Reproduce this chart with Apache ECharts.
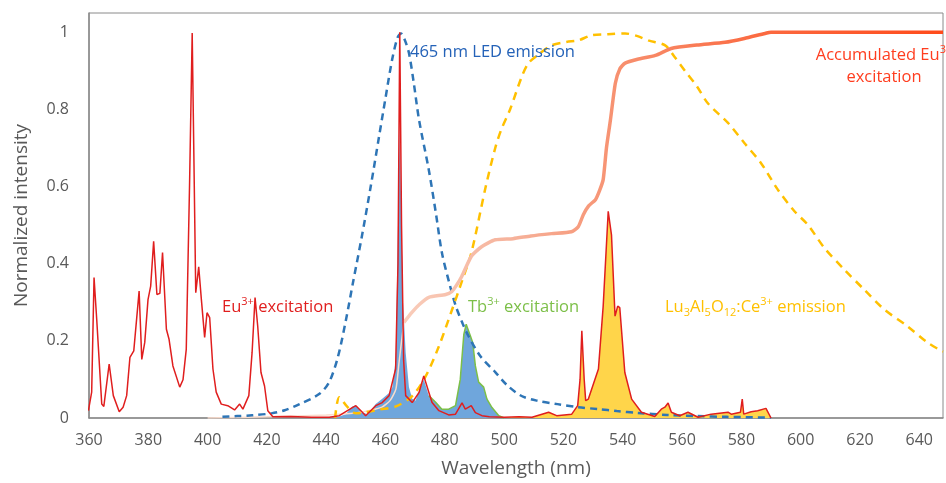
<!DOCTYPE html>
<html>
<head>
<meta charset="utf-8">
<title>Excitation and emission spectra</title>
<script src="https://cdn.jsdelivr.net/npm/echarts@6/dist/echarts.min.js"></script>
<style>
  html, body { margin: 0; padding: 0; background: #fff; }
  #chart { width: 946px; height: 483px; }
</style>
</head>
<body>
<div id="chart"></div>
<script>
// wavelength (nm), normalized intensity
const euExcitation = [
  [359.8, 0.019], [360.9, 0.067], [361.7, 0.364], [362.6, 0.256], [364.3, 0.036], [365, 0.03],
  [366.8, 0.14], [368.2, 0.058], [370.2, 0.016], [371.5, 0.028], [372.7, 0.058], [373.8, 0.157],
  [375.1, 0.174], [376.9, 0.329], [377.8, 0.152], [378.8, 0.196], [379.9, 0.307], [380.8, 0.342],
  [381.8, 0.458], [382.9, 0.32], [383.9, 0.323], [384.8, 0.429], [386.1, 0.23], [387, 0.204],
  [388.3, 0.135], [390.6, 0.08], [391.7, 0.099], [392.8, 0.178], [393.9, 0.6], [394.8, 0.998],
  [396, 0.325], [397, 0.392], [397.9, 0.307], [399, 0.209], [399.8, 0.273], [400.7, 0.26],
  [401.8, 0.127], [402.9, 0.067], [404.6, 0.036], [406.8, 0.032], [409.1, 0.021], [410.8, 0.036],
  [411.9, 0.023], [413.9, 0.058], [415, 0.17], [416, 0.312], [416.9, 0.238], [418, 0.118],
  [419.2, 0.083], [420.3, 0.019], [422, 0.003], [428, 0.004], [435, 0.002], [441, 0.002],
  [444.4, 0.006], [448.8, 0.027], [450, 0.032], [451.7, 0.019], [453.3, 0.006], [456.7, 0.032],
  [458.9, 0.04], [461.2, 0.058], [463.4, 0.127], [464.2, 0.4], [464.8, 1.0], [465.4, 0.5],
  [466.1, 0.15], [466.8, 0.058], [469, 0.04], [471.3, 0.066], [472.9, 0.109], [474.6, 0.067],
  [475.7, 0.04], [478, 0.019], [481.3, 0.008], [483.6, 0.01], [485.8, 0.039], [486.9, 0.023],
  [488.9, 0.032], [490.3, 0.014], [492.5, 0.006], [495, 0.003], [500, 0.002], [505, 0.003],
  [509.4, 0.002], [515, 0.015], [517.7, 0.006], [522.8, 0.01], [524.8, 0.032], [525.6, 0.1],
  [526.2, 0.226], [527, 0.1], [527.5, 0.045], [528.4, 0.049], [531.8, 0.127], [533.4, 0.29],
  [535.1, 0.536], [536.2, 0.475], [537.4, 0.264], [538.3, 0.29], [539, 0.286], [540.7, 0.118],
  [543, 0.049], [546.3, 0.015], [550.8, 0.004], [553, 0.023], [554.2, 0.028], [555.3, 0.039],
  [556.4, 0.015], [559.2, 0.006], [562, 0.015], [565.4, 0.002], [569.8, 0.01], [575.5, 0.015],
  [576.6, 0.01], [579.7, 0.015], [580.3, 0.049], [580.8, 0.01], [583.3, 0.016], [585.5, 0.019],
  [588.3, 0.025], [590, 0]
]

const tbExcitation = [
  [443, 0], [446.6, 0.01], [448.8, 0.03], [450, 0.033], [452, 0.015], [454, 0.01], [456.7, 0.036],
  [458.9, 0.05], [461.2, 0.065], [462.3, 0.08], [463.4, 0.15], [464.2, 0.5], [464.8, 0.76],
  [465.4, 0.5], [465.9, 0.3], [466.8, 0.17], [467.9, 0.08], [469, 0.05], [470.1, 0.045],
  [471.3, 0.07], [472.9, 0.1], [474.6, 0.058], [476.9, 0.041], [479, 0.023], [481.3, 0.023],
  [483.6, 0.032], [485.2, 0.1], [486.4, 0.217], [487.2, 0.243], [488.6, 0.213], [489.4, 0.196],
  [490.3, 0.135], [491.4, 0.093], [493.1, 0.08], [494.2, 0.049], [495.9, 0.027], [498.2, 0.006],
  [500, 0]
]

const ledEmission = [
  [405, 0.003], [410, 0.005], [415, 0.007], [421.5, 0.012], [426, 0.02], [431, 0.036],
  [437.6, 0.062], [441, 0.093], [444, 0.16], [446.7, 0.256], [449, 0.35], [452, 0.47],
  [455, 0.6], [457.8, 0.729], [460, 0.83], [462.2, 0.928], [464, 0.985], [465.2, 0.997],
  [466.5, 0.98], [467.9, 0.946], [469.5, 0.87], [471.3, 0.773], [474.6, 0.643], [477, 0.53],
  [479, 0.429], [481.5, 0.35], [483.7, 0.29], [486, 0.245], [488, 0.212], [492, 0.16],
  [497, 0.119], [501, 0.085], [505.9, 0.057], [511, 0.045], [518, 0.036], [525, 0.028],
  [531.8, 0.023], [538, 0.018], [545, 0.013], [555, 0.008], [565, 0.005], [575, 0.003],
  [590, 0.001]
]

const luagEmission = [
  [443, 0], [444.4, 0.054], [447, 0.03], [450, 0.012], [453.4, 0.015], [458, 0.022],
  [463.5, 0.03], [469, 0.057], [473.6, 0.109], [478, 0.186], [482.4, 0.28], [486, 0.36],
  [489, 0.43], [493.8, 0.6], [497, 0.7], [499, 0.747], [502, 0.8], [505.9, 0.884],
  [508.2, 0.92], [512, 0.945], [516, 0.966], [521, 0.975], [525, 0.979], [529.4, 0.992],
  [535, 0.995], [540.8, 0.997], [545, 0.99], [548.6, 0.979], [554.3, 0.966], [557.5, 0.936],
  [561, 0.9], [565, 0.86], [568.7, 0.816], [575.5, 0.765], [581, 0.713], [586.7, 0.66],
  [592.3, 0.592], [597.9, 0.536], [602.4, 0.501], [608, 0.441], [614.7, 0.385], [621.4, 0.333],
  [628.1, 0.282], [636, 0.238], [642.7, 0.196], [648, 0.172]
]

// accumulated Eu3+ excitation: faint start, then the main curve
const accumulatedStart = [
  [400, 0], [420, 0.003], [440, 0.008], [450, 0.013], [455, 0.02], [458.8, 0.028],
  [461.5, 0.045], [463.5, 0.075], [464.5, 0.14], [465.2, 0.186], [466.2, 0.248]
]
const accumulatedMain = [
  [466.2, 0.248], [468.9, 0.274], [471.5, 0.295], [474.6, 0.313], [480.3, 0.32], [482.4, 0.328],
  [484, 0.345], [485.7, 0.367], [489, 0.42], [492.4, 0.444], [497, 0.462], [503, 0.465],
  [509, 0.472], [516, 0.478], [522.7, 0.483], [525, 0.496], [526.7, 0.527], [528.5, 0.55],
  [530.8, 0.566], [532.2, 0.59], [533.4, 0.618], [534.5, 0.7], [535.8, 0.77], [537.5, 0.868],
  [539, 0.905], [540.8, 0.92], [545, 0.93], [551, 0.94], [556.3, 0.958], [565, 0.967],
  [574.5, 0.974], [581, 0.984], [588, 0.997], [590, 1], [648, 1]
]

const xTicks = [360, 380, 400, 420, 440, 460, 480, 500, 520, 540, 560, 580, 600, 620, 640]
const yTicks = [0, 0.2, 0.4, 0.6, 0.8, 1]

const font = 'Open Sans'
const chart = echarts.init(document.getElementById('chart'))

function richFor(color) {
  return {
    n: { fontSize: 16.5, fontFamily: font, fill: color, lineHeight: 22, verticalAlign: 'middle' },
    s: { fontSize: 11, fontFamily: font, fill: color, lineHeight: 11, verticalAlign: 'top' },
    b: { fontSize: 11, fontFamily: font, fill: color, lineHeight: 11, verticalAlign: 'bottom' }
  }
}

function textEl(x, y, text, color, align) {
  return {
    type: 'text',
    x: x,
    y: y,
    z: 100,
    style: {
      text: text,
      rich: richFor(color),
      fill: color,
      font: '16.5px ' + font,
      align: align || 'left',
      verticalAlign: 'middle'
    }
  }
}

chart.setOption({
  animation: false,
  backgroundColor: '#fff',
  grid: {
    left: 89, right: -1, top: 13, bottom: 63,
    show: true, borderColor: '#8a8a8a', borderWidth: 1
  },
  xAxis: {
    type: 'value',
    min: 360,
    max: 648,
    interval: 20,
    name: 'Wavelength (nm)',
    nameLocation: 'middle',
    nameGap: 41,
    nameTextStyle: { fontSize: 19, color: '#595959', fontFamily: font },
    axisLine: { lineStyle: { color: '#8a8a8a', width: 1.5 } },
    axisTick: { show: false },
    splitLine: { show: false },
    axisLabel: {
      fontSize: 16, color: '#595959', fontFamily: font, margin: 14,
      formatter: v => (xTicks.indexOf(v) >= 0 ? String(v) : '')
    }
  },
  yAxis: {
    type: 'value',
    min: 0,
    max: 1.05,
    interval: 0.2,
    name: 'Normalized intensity',
    nameLocation: 'middle',
    nameGap: 58,
    nameTextStyle: { fontSize: 19, color: '#595959', fontFamily: font },
    axisLine: { show: true, lineStyle: { color: '#8a8a8a', width: 1.5 } },
    axisTick: { show: false },
    splitLine: { show: false },
    axisLabel: {
      fontSize: 16, color: '#595959', fontFamily: font, margin: 20,
      formatter: v => {
        const t = yTicks.find(k => Math.abs(k - v) < 1e-6)
        return t === undefined ? '' : String(t)
      }
    }
  },
  series: [
    {
      name: 'Tb3+ excitation fill',
      type: 'line',
      data: tbExcitation,
      symbol: 'none',
      lineStyle: { width: 0 },
      areaStyle: { color: '#6fa6dc', opacity: 1 },
      z: 1
    },
    {
      name: 'Tb3+ excitation',
      type: 'line',
      data: tbExcitation.filter(p => p[0] >= 474),
      symbol: 'none',
      lineStyle: { color: '#7cbf48', width: 1.5 },
      z: 2
    },
    {
      name: 'Eu3+ fill',
      type: 'line',
      data: euExcitation.filter(p => p[0] >= 500),
      symbol: 'none',
      lineStyle: { width: 0 },
      areaStyle: { color: '#ffd54a', opacity: 1 },
      z: 1
    },
    {
      name: 'Accumulated start',
      type: 'line',
      data: accumulatedStart,
      symbol: 'none',
      smooth: 0.2,
      lineStyle: { color: '#fadccd', width: 1.5 },
      z: 3
    },
    {
      name: '465 nm LED emission',
      type: 'line',
      data: ledEmission,
      symbol: 'none',
      smooth: 0.3,
      lineStyle: { color: '#2e75b6', width: 2.5, type: [7, 5] },
      z: 4
    },
    {
      name: 'Lu3Al5O12:Ce3+ emission',
      type: 'line',
      data: luagEmission,
      symbol: 'none',
      smooth: 0.3,
      lineStyle: { color: '#ffc000', width: 2.5, type: [8, 6] },
      z: 4
    },
    {
      name: 'Accumulated Eu3+ excitation',
      type: 'line',
      data: accumulatedMain,
      symbol: 'none',
      smooth: 0.2,
      lineStyle: {
        width: 3.5,
        color: new echarts.graphic.LinearGradient(0, 0, 1, 0, [
          { offset: 0, color: '#f9cdbb' },
          { offset: 0.2, color: '#f6b39c' },
          { offset: 0.4, color: '#f7906f' },
          { offset: 0.65, color: '#fb6b42' },
          { offset: 1, color: '#ff4a1a' }
        ])
      },
      z: 5
    },
    {
      name: 'Eu3+ excitation',
      type: 'line',
      data: euExcitation,
      symbol: 'none',
      lineStyle: { color: '#e01e1e', width: 1.5 },
      z: 6
    }
  ],
  graphic: [
    textEl(222, 307, '{n|Eu}{s|3+}{n| excitation}', '#e01e1e'),
    textEl(410, 52, '{n|465 nm LED emission}', '#2462b8'),
    textEl(468, 307, '{n|Tb}{s|3+}{n| excitation}', '#7cbf48'),
    textEl(665, 307, '{n|Lu}{b|3}{n|Al}{b|5}{n|O}{b|12}{n|:Ce}{s|3+}{n| emission}', '#ffc000'),
    textEl(884, 66, '{n|Accumulated Eu}{s|3+}\n{n|excitation}', '#ff3d1f', 'center')
  ]
})
</script>
</body>
</html>
